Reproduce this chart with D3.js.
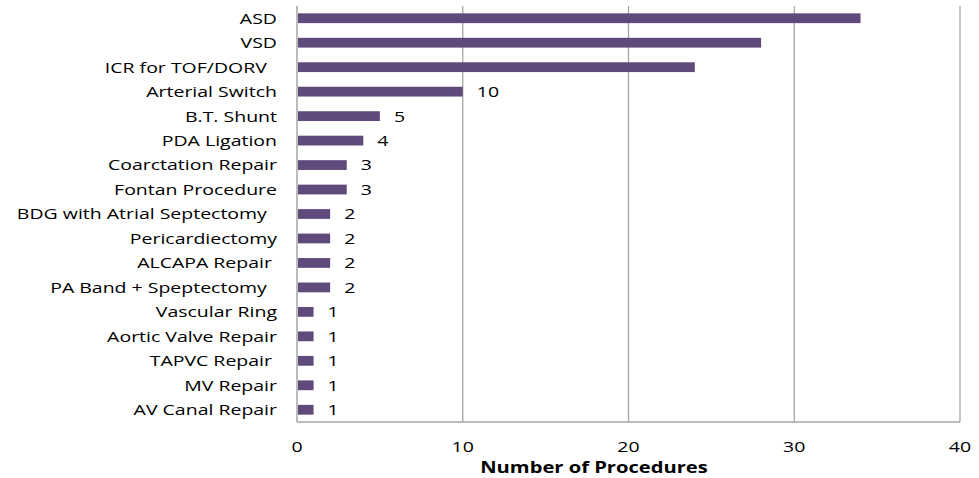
<!DOCTYPE html>
<html>
<head>
<meta charset="utf-8">
<script src="https://cdn.jsdelivr.net/npm/d3@7"></script>
<style>
  body { margin: 0; background: #fff; }
  text { font-family: "Open Sans", sans-serif; fill: #000; white-space: pre; }
</style>
</head>
<body>
<div id="chart"></div>
<script>
// Procedure counts (top to bottom as in the chart)
const procedures = [
    "ASD", "VSD", "ICR for TOF/DORV  ", "Arterial Switch", "B.T. Shunt",
    "PDA Ligation", "Coarctation Repair", "Fontan Procedure",
    "BDG with Atrial Septectomy  ", "Pericardiectomy", "ALCAPA Repair ",
    "PA Band + Speptectomy  ", "Vascular Ring", "Aortic Valve Repair",
    "TAPVC Repair ", "MV Repair", "AV Canal Repair"
];
const counts = [34, 28, 24, 10, 5, 4, 3, 3, 2, 2, 2, 2, 1, 1, 1, 1, 1];
// data labels shown in the chart (none on the three longest bars)
const valueLabels = [null, null, null, "10", "5", "4", "3", "3", "2", "2", "2", "2", "1", "1", "1", "1", "1"];
const xTicks = [0, 10, 20, 30, 40];

const width = 979, height = 478;
const margin = {top: 6, right: 19, bottom: 56, left: 297};
const innerW = width - margin.left - margin.right;
const innerH = height - margin.top - margin.bottom;
const stretch = 1.3; // the reference text is wide

const svg = d3.select("#chart")
    .append("svg")
    .attr("width", width)
    .attr("height", height);

const g = svg.append("g")
    .attr("transform", `translate(${margin.left},${margin.top})`);

const x = d3.scaleLinear().domain([0, 40]).range([0, innerW]);
const y = d3.scaleBand().domain(d3.range(procedures.length)).range([0, innerH]).paddingInner(0.6).paddingOuter(0.3);

const rows = procedures.map((p, i) => ({name: p, value: counts[i], label: valueLabels[i], i: i}));

// gridlines
g.selectAll(".grid")
    .data(xTicks.slice(1))
    .enter()
    .append("line")
    .attr("x1", d => x(d))
    .attr("x2", d => x(d))
    .attr("y1", 0)
    .attr("y2", innerH)
    .attr("stroke", "#a6a6a6")
    .attr("stroke-width", 1.3);

// axis lines
g.append("line")
    .attr("x1", 0).attr("x2", 0)
    .attr("y1", 0).attr("y2", innerH)
    .attr("stroke", "#a6a6a6").attr("stroke-width", 1.5);
g.append("line")
    .attr("x1", 0).attr("x2", innerW)
    .attr("y1", innerH).attr("y2", innerH)
    .attr("stroke", "#a6a6a6").attr("stroke-width", 1.5);

// bars
g.selectAll(".bar")
    .data(rows)
    .enter()
    .append("rect")
    .attr("x", 1)
    .attr("y", d => y(d.i))
    .attr("width", d => x(d.value) - 1)
    .attr("height", y.bandwidth())
    .attr("fill", "#604a7b");

// value labels
g.selectAll(".val")
    .data(rows.filter(d => d.label !== null))
    .enter()
    .append("text")
    .attr("transform", d => `translate(${x(d.value) + 14},${y(d.i) + y.bandwidth() / 2}) scale(${stretch},1)`)
    .attr("dy", "0.36em")
    .style("font-size", "15px")
    .text(d => d.label);

// category labels
g.selectAll(".cat")
    .data(rows)
    .enter()
    .append("text")
    .attr("transform", d => `translate(-20,${y(d.i) + y.bandwidth() / 2}) scale(${stretch},1)`)
    .attr("dy", "0.36em")
    .attr("text-anchor", "end")
    .style("font-size", "15px")
    .text(d => d.name);

// x tick labels
g.selectAll(".tick-label")
    .data(xTicks)
    .enter()
    .append("text")
    .attr("transform", d => `translate(${x(d)},${innerH + 30}) scale(${stretch},1)`)
    .attr("text-anchor", "middle")
    .style("font-size", "15px")
    .text(d => d);

// x axis title
g.append("text")
    .attr("transform", `translate(${594 - margin.left},${innerH + 51}) scale(1.26,1)`)
    .attr("text-anchor", "middle")
    .style("font-size", "16px")
    .style("font-weight", "bold")
    .text("Number of Procedures");
</script>
</body>
</html>
